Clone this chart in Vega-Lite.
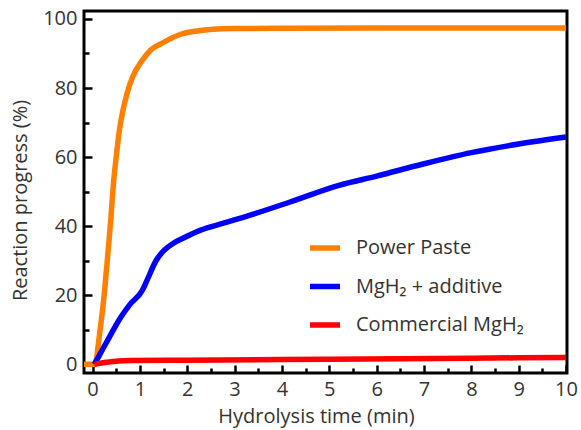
{
  "$schema": "https://vega.github.io/schema/vega-lite/v6.json",
  "width": 483,
  "height": 362,
  "autosize": {"type": "none"},
  "padding": {"left": 84, "top": 11, "right": 14, "bottom": 57},
  "background": "white",
  "config": {
    "view": {"stroke": "black", "strokeWidth": 3},
    "font": "Open Sans",
    "axis": {
      "domain": false,
      "grid": true,
      "ticks": false,
      "gridColor": "black",
      "gridWidth": 2.5,
      "gridOpacity": 1,
      "labelFont": "Open Sans",
      "labelFontSize": 20,
      "labelColor": "#333333",
      "titleFont": "Open Sans",
      "titleFontSize": 20,
      "titleFontWeight": "normal",
      "titleColor": "#333333"
    },
    "legend": {
      "labelFont": "Open Sans",
      "labelFontSize": 20,
      "labelColor": "#333333",
      "labelLimit": 400
    }
  },
  "data": {
    "values": [
      {"t": -0.18, "v": 0, "s": "Power Paste"},
      {"t": 0.03, "v": 0, "s": "Power Paste"},
      {"t": 0.07, "v": 0.8, "s": "Power Paste"},
      {"t": 0.14, "v": 7.8, "s": "Power Paste"},
      {"t": 0.25, "v": 20.6, "s": "Power Paste"},
      {"t": 0.33, "v": 33, "s": "Power Paste"},
      {"t": 0.39, "v": 42.6, "s": "Power Paste"},
      {"t": 0.44, "v": 52, "s": "Power Paste"},
      {"t": 0.5, "v": 60, "s": "Power Paste"},
      {"t": 0.57, "v": 68, "s": "Power Paste"},
      {"t": 0.65, "v": 74, "s": "Power Paste"},
      {"t": 0.73, "v": 78.5, "s": "Power Paste"},
      {"t": 0.84, "v": 83, "s": "Power Paste"},
      {"t": 1.05, "v": 88, "s": "Power Paste"},
      {"t": 1.23, "v": 91, "s": "Power Paste"},
      {"t": 1.47, "v": 93, "s": "Power Paste"},
      {"t": 1.85, "v": 95.5, "s": "Power Paste"},
      {"t": 2.2, "v": 96.5, "s": "Power Paste"},
      {"t": 2.55, "v": 97, "s": "Power Paste"},
      {"t": 3, "v": 97.2, "s": "Power Paste"},
      {"t": 4, "v": 97.3, "s": "Power Paste"},
      {"t": 6, "v": 97.4, "s": "Power Paste"},
      {"t": 8, "v": 97.4, "s": "Power Paste"},
      {"t": 10, "v": 97.4, "s": "Power Paste"},
      {"t": 0.04, "v": 0, "s": "MgH₂ + additive"},
      {"t": 0.1, "v": 1.5, "s": "MgH₂ + additive"},
      {"t": 0.2, "v": 4, "s": "MgH₂ + additive"},
      {"t": 0.4, "v": 9, "s": "MgH₂ + additive"},
      {"t": 0.6, "v": 13.7, "s": "MgH₂ + additive"},
      {"t": 0.8, "v": 17.5, "s": "MgH₂ + additive"},
      {"t": 1.05, "v": 21.4, "s": "MgH₂ + additive"},
      {"t": 1.15, "v": 24.3, "s": "MgH₂ + additive"},
      {"t": 1.34, "v": 30, "s": "MgH₂ + additive"},
      {"t": 1.51, "v": 33, "s": "MgH₂ + additive"},
      {"t": 1.7, "v": 35, "s": "MgH₂ + additive"},
      {"t": 1.91, "v": 36.5, "s": "MgH₂ + additive"},
      {"t": 2.27, "v": 38.8, "s": "MgH₂ + additive"},
      {"t": 2.8, "v": 41, "s": "MgH₂ + additive"},
      {"t": 3.33, "v": 43.2, "s": "MgH₂ + additive"},
      {"t": 4.17, "v": 47, "s": "MgH₂ + additive"},
      {"t": 5.22, "v": 51.9, "s": "MgH₂ + additive"},
      {"t": 6, "v": 54.5, "s": "MgH₂ + additive"},
      {"t": 6.98, "v": 58, "s": "MgH₂ + additive"},
      {"t": 8, "v": 61.3, "s": "MgH₂ + additive"},
      {"t": 9, "v": 63.8, "s": "MgH₂ + additive"},
      {"t": 10, "v": 65.8, "s": "MgH₂ + additive"},
      {"t": 0.04, "v": 0, "s": "Commercial MgH₂"},
      {"t": 0.3, "v": 0.6, "s": "Commercial MgH₂"},
      {"t": 0.8, "v": 1.1, "s": "Commercial MgH₂"},
      {"t": 2, "v": 1.2, "s": "Commercial MgH₂"},
      {"t": 5, "v": 1.5, "s": "Commercial MgH₂"},
      {"t": 8, "v": 1.8, "s": "Commercial MgH₂"},
      {"t": 10, "v": 2.0, "s": "Commercial MgH₂"}
    ]
  },
  "mark": {"type": "line", "interpolate": "monotone", "strokeWidth": 5.5, "clip": true, "strokeCap": "butt"},
  "encoding": {
    "x": {
      "field": "t", "type": "quantitative",
      "scale": {"domain": [-0.18, 10.02], "nice": false, "zero": false},
      "axis": {
        "title": "Hydrolysis time (min)",
        "values": [0, 0.5, 1, 1.5, 2, 2.5, 3, 3.5, 4, 4.5, 5, 5.5, 6, 6.5, 7, 7.5, 8, 8.5, 9, 9.5, 10],
        "labelExpr": "datum.value % 1 === 0 ? format(datum.value, 'd') : ''",
        "gridDash": {"condition": {"test": "datum.value % 1 === 0", "value": [0, 354, 8, 0]}, "value": [0, 357, 5, 0]},
        "labelPadding": 6,
        "titlePadding": 7,
        "titleX": 232,
        "labelFlush": false
      }
    },
    "y": {
      "field": "v", "type": "quantitative",
      "scale": {"domain": [-2.5, 102.3], "nice": false, "zero": false},
      "axis": {
        "title": "Reaction progress (%)",
        "values": [0, 10, 20, 30, 40, 50, 60, 70, 80, 90, 100],
        "labelExpr": "datum.value % 20 === 0 ? format(datum.value, 'd') : ''",
        "gridDash": {"condition": {"test": "datum.value % 20 === 0", "value": [8, 2000]}, "value": [5, 2000]},
        "labelPadding": 7,
        "titlePadding": 12,
        "titleY": 189,
        "labelFlush": false
      }
    },
    "color": {
      "field": "s", "type": "nominal",
      "scale": {
        "domain": ["Power Paste", "MgH₂ + additive", "Commercial MgH₂"],
        "range": ["#FF8000", "#0000FF", "#FF0000"]
      },
      "legend": {
        "title": null,
        "orient": "none",
        "legendX": 223,
        "legendY": 219,
        "padding": 0,
        "symbolType": "stroke",
        "symbolSize": 900,
        "symbolStrokeWidth": 5.5,
        "labelOffset": 13,
        "rowPadding": 9.5
      }
    }
  }
}
